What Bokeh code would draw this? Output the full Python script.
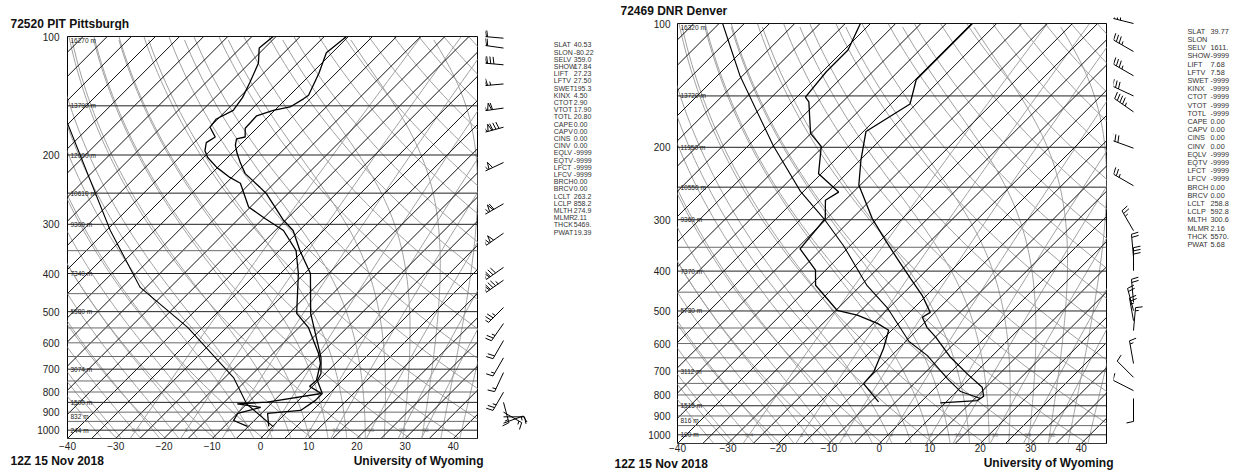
import numpy as np
from bokeh.plotting import figure
from bokeh.layouts import row, column
from bokeh.models import Range1d, FixedTicker, NumeralTickFormatter, CustomJSTickFormatter
from bokeh.core.properties import value
from bokeh.embed import file_html
from bokeh.resources import INLINE

FONT = "Liberation Sans"
SKEW = 35.4
P_BOT, P_TOP = 1050.0, 100.0
T_MIN, T_MAX = -40.0, 45.0

# ---------------- Pittsburgh data ----------------
pit_title = "72520 PIT Pittsburgh"
pit_temp_p = [978, 907, 891, 840, 807, 748, 718, 654, 505, 400, 350, 311, 293, 251, 242, 223, 210, 198,
              189, 182, 180, 171, 159, 154, 151, 144, 141, 124, 110, 100]
pit_temp = [-0.8, -3.7, 2.5, 3.5, 3.5, -0.2, -0.9, -4.2, -15.5, -23.8, -30.7, -36.3, -40.4, -49.4, -52.0,
            -58.0, -61.1, -63.9, -65.9, -67.0, -65.6, -67.4, -67.6, -65.3, -62.5, -61.4, -61.1, -63.5,
            -66.2, -65.4]
pit_dwpt_p = [978, 945, 907, 875, 857, 849, 807, 774, 748, 677, 638, 548, 505, 400, 350, 311, 290, 271,
              236, 228, 215, 203, 195, 186, 180, 170, 162, 154, 143, 131, 117, 107, 100]
pit_dwpt = [-5.2, -9.3, -9.9, -6.4, -12.0, -6.1, 3.3, -0.6, -0.4, -3.1, -5.6, -13.1, -18.4, -26.3, -31.5,
            -38.3, -44.6, -50.4, -57.0, -60.4, -65.2, -69.1, -71.1, -72.5, -71.8, -74.9, -75.3, -73.6,
            -74.3, -75.9, -78.1, -81.1, -80.6]
pit_parcel_p = [980, 858, 735, 548, 434, 311, 165]
pit_parcel = [0.2, -10.0, -18.2, -38.1, -56.2, -74.2, -105.6]
pit_wind_p = [101, 107, 118, 132, 152, 170, 209, 266, 316, 386, 416, 488, 536, 592, 655, 714, 801, 850,
              900, 925, 960]
pit_wind_dir = [275, 278, 275, 265, 262, 255, 245, 240, 235, 235, 235, 225, 215, 210, 210, 205, 210, 165,
                120, 90, 70]
pit_wind_spd = [60, 60, 80, 65, 110, 130, 100, 110, 100, 80, 85, 35, 25, 20, 15, 15, 25, 15, 15, 15, 10]
hgt_levels = [100, 150, 200, 250, 300, 400, 500, 700, 850, 925, 1000]
pit_hgt = ["16270 m", "13790 m", "12000 m", "10610 m", "9300 m", "7340 m", "5580 m", "3074 m",
           "1500 m", "832 m", "244 m"]
stat_names = ["SLAT", "SLON", "SELV", "SHOW", "LIFT", "LFTV", "SWET", "KINX", "CTOT", "VTOT", "TOTL",
              "CAPE", "CAPV", "CINS", "CINV", "EQLV", "EQTV", "LFCT", "LFCV", "BRCH", "BRCV", "LCLT",
              "LCLP", "MLTH", "MLMR", "THCK", "PWAT"]
pit_stats = ["40.53", "-80.22", "359.0", "17.84", "27.23", "27.50", "195.3", "4.50", "2.90", "17.90",
             "20.80", "0.00", "0.00", "0.00", "0.00", "-9999", "-9999", "-9999", "-9999", "0.00", "0.00",
             "263.2", "858.2", "274.9", "2.11", "5469.", "19.39"]

# ---------------- Denver data ----------------
dnr_title = "72469 DNR Denver"
dnr_temp_p = [836, 826, 806, 766, 711, 648, 579, 548, 518, 504, 458, 417, 373, 333, 298, 247, 215, 183,
              157, 137, 100]
dnr_temp = [4.0, 10.9, 11.3, 9.2, 3.6, -3.0, -9.9, -13.6, -16.5, -15.9, -20.9, -26.5, -33.1, -39.7,
            -46.0, -55.3, -59.8, -64.5, -61.2, -64.8, -64.8]
dnr_dwpt_p = [832, 751, 703, 617, 557, 536, 512, 498, 433, 398, 353, 298, 269, 257, 232, 199, 185, 155,
              151, 131, 116, 100]
dnr_dwpt = [-8.4, -15.0, -15.3, -18.0, -20.6, -24.2, -29.8, -34.8, -44.0, -47.0, -54.3, -55.3, -58.9,
            -57.9, -65.5, -70.4, -75.1, -81.7, -83.3, -84.2, -84.2, -87.0]
dnr_parcel_p = [816, 785, 730, 642, 593, 493, 434, 347, 298, 256, 198, 134, 100]
dnr_parcel = [11.1, 5.8, 0.6, -7.9, -14.35, -25.1, -33.7, -46.3, -55.6, -65.6, -80.1, -100.5, -114.3]
dnr_wind_p = [100, 117, 134, 150, 164, 201, 248, 319, 370, 399, 476, 499, 528, 558, 671, 725, 781, 816]
dnr_wind_dir = [284, 300, 300, 295, 305, 290, 300, 330, 355, 0, 355, 345, 350, 5, 350, 315, 297, 180]
dnr_wind_spd = [35, 35, 35, 30, 45, 30, 25, 25, 20, 30, 20, 20, 25, 15, 15, 10, 10, 10]
dnr_hgt = ["16320 m", "13720 m", "11950 m", "10550 m", "9360 m", "7370 m", "5730 m", "3112 m",
           "1515 m", "816 m", "190 m"]
dnr_stats = ["39.77", "", "1611.", "-9999", "7.68", "7.58", "-9999", "-9999", "-9999", "-9999", "-9999",
             "0.00", "0.00", "0.00", "0.00", "-9999", "-9999", "-9999", "-9999", "0.00", "0.00", "258.8",
             "592.8", "300.6", "2.16", "5570.", "5.68"]

date_text = "12Z 15 Nov 2018"
credit_text = "University of Wyoming"
mixr_vals = [0.4, 1, 2, 4, 7, 10, 16, 24, 32]
mixr_labels = ["0.4", "1", "2", "4", "7", "10", "16", "24", "32"]
isobar_levels = list(range(100, 1051, 50))
major_isobars = [100, 150, 200, 250, 300, 400, 500, 700, 850, 1000]

# ---------------- page geometry (pixels) ----------------
LNR = np.log(P_BOT / P_TOP)
L_TOP, L_H = 36.0, 402.0     # left diagram frame  x 67..477,  y 36..438
R_TOP, R_H = 23.0, 420.0     # right diagram frame x 677..1106, y 23..443
KL = L_H / LNR
KR = R_H / LNR
BASE_FIX = 4.0               # renderer places alphabetic baselines ~4px low


def L_p(py):
    return P_TOP * np.exp((py - L_TOP) / KL)


def R_p(py):
    return P_TOP * np.exp((py - R_TOP) / KR)


# ---------------- helpers ----------------
def skx(T, pr):
    return np.asarray(T, float) + SKEW * np.log(P_BOT / np.asarray(pr, float))


PLEVS = np.exp(np.linspace(np.log(P_BOT), np.log(P_TOP), 90))


def moist_curves(t1000):
    Rd, Cp, Lv, eps = 287.04, 1005.7, 2.501e6, 0.622

    def es(T):
        return 6.112 * np.exp(17.67 * (T - 273.15) / (T - 29.65))

    def lapse(T, pr):
        e = es(T)
        rs = eps * e / (pr - e)
        return (Rd * T + Lv * rs) / (pr * (Cp + Lv * Lv * rs * eps / (Rd * T * T)))

    def integ(p_seq, T0):
        T = T0.copy()
        out = [T.copy()]
        for i in range(1, len(p_seq)):
            pr = p_seq[i - 1]
            h = p_seq[i] - p_seq[i - 1]
            k1 = lapse(T, pr)
            k2 = lapse(T + h * k1, pr + h)
            T = T + h * (k1 + k2) / 2.0
            out.append(T.copy())
        return np.array(out)

    T0 = np.array(t1000, float) + 273.15
    p_up = np.arange(1000.0, 99.0, -2.0)
    p_dn = np.arange(1000.0, 1051.0, 2.0)
    up = integ(p_up, T0)
    dn = integ(p_dn, T0)
    ps = np.concatenate([p_dn[::-1], p_up[1:]])
    Ts = np.concatenate([dn[::-1], up[1:]]) - 273.15
    return ps[::3], Ts[::3]


MOIST_P, MOIST_T = moist_curves(list(range(-36, 45, 4)))


def draw_background(p):
    gray = "#a0a0a0"
    xs, ys = [], []
    for th in range(230, 480, 10):
        T = th * (PLEVS / 1000.0) ** 0.2857 - 273.15
        xs.append(list(skx(T, PLEVS)))
        ys.append(list(PLEVS))
    p.multi_line(xs, ys, line_color=gray, line_width=1)
    xs = [list(skx(MOIST_T[:, j], MOIST_P)) for j in range(MOIST_T.shape[1])]
    ys = [list(MOIST_P) for _ in range(MOIST_T.shape[1])]
    p.multi_line(xs, ys, line_color=gray, line_width=1)
    xs, ys, lx = [], [], []
    for w in mixr_vals:
        e = (w / 1000.0) * PLEVS / (0.622 + w / 1000.0)
        lr = np.log(e / 6.112)
        xs.append(list(skx(243.5 * lr / (17.67 - lr), PLEVS)))
        ys.append(list(PLEVS))
        e0 = (w / 1000.0) * 1000.0 / (0.622 + w / 1000.0)
        l0 = np.log(e0 / 6.112)
        lx.append(float(skx(243.5 * l0 / (17.67 - l0), 1000.0)))
    p.multi_line(xs, ys, line_color=gray, line_width=1)
    p.text(x=lx, y=[1000.0] * len(lx), text=mixr_labels, text_font=value(FONT), text_font_size="6px",
           text_color="#9a9a9a", text_align="center", text_baseline="middle")
    xs, ys = [], []
    for T in range(-125, 50, 5):
        xs.append([T, T + SKEW * LNR])
        ys.append([P_BOT, P_TOP])
    p.multi_line(xs, ys, line_color="#111111", line_width=1)
    minor = [lv for lv in isobar_levels if lv not in major_isobars]
    p.multi_line([[T_MIN, T_MAX]] * len(minor), [[lv, lv] for lv in minor], line_color="#6a6a6a",
                 line_width=1)
    p.multi_line([[T_MIN, T_MAX]] * len(major_isobars), [[lv, lv] for lv in major_isobars],
                 line_color="#222222", line_width=1)


def skewt_fig(w, h, b_left, b_right, b_top, b_bottom, ystand, xstand):
    p = figure(width=w, height=h, title=None, x_range=Range1d(T_MIN, T_MAX),
               y_range=Range1d(P_BOT, P_TOP), y_axis_type="log", output_backend="svg",
               toolbar_location=None, min_border_left=b_left, min_border_right=b_right,
               min_border_top=b_top, min_border_bottom=b_bottom, frame_align=False)
    p.grid.visible = False
    p.outline_line_color = "black"
    p.outline_line_width = 1
    p.xaxis.ticker = FixedTicker(ticks=list(range(-40, 41, 10)))
    p.xaxis.formatter = CustomJSTickFormatter(code="return (tick < 0 ? '\\u2212' : '') + Math.abs(tick);")
    p.yaxis.ticker = FixedTicker(ticks=list(range(100, 1001, 100)))
    p.yaxis.formatter = NumeralTickFormatter(format="0")
    for ax in (p.xaxis[0], p.yaxis[0]):
        ax.axis_line_color = None
        ax.major_tick_in = 0
        ax.major_tick_out = 0
        ax.minor_tick_in = 0
        ax.minor_tick_out = 0
        ax.major_label_text_font = FONT
        ax.major_label_text_font_size = "10px"
        ax.major_label_text_color = "#222222"
    p.yaxis[0].major_label_standoff = ystand
    p.xaxis[0].major_label_standoff = xstand
    draw_background(p)
    return p


def draw_sounding(p, tp, tt, dp, dd, pp, pt):
    p.line(skx(pt, pp), pp, line_color="black", line_width=1.1)
    p.line(skx(dd, dp), dp, line_color="black", line_width=1.3)
    p.line(skx(tt, tp), tp, line_color="black", line_width=1.3)


def draw_heights(p, labels, k, x_left):
    # keep the top label inside the frame (4 px below the top isobar)
    ys = [max(lv, P_TOP * np.exp(4.0 / k)) for lv in hgt_levels]
    p.text(x=[x_left] * len(hgt_levels), y=ys, text=labels, text_font=value(FONT),
           text_font_size="6.5px", text_color="#222222", text_align="left", text_baseline="middle")


def barb_segments(p0, d, spd, sx0, kpx, L=21.0, fl=7.0, sp=3.2):
    r = np.deg2rad(d)
    u = np.array([np.sin(r), np.cos(r)])
    n = np.array([np.cos(r), -np.sin(r)])
    segs = [[(0.0, 0.0), tuple(u * L)]]
    s = int(5 * round(spd / 5.0))
    npen = s // 50
    s -= 50 * npen
    nfull = s // 10
    s -= 10 * nfull
    nhalf = 1 if s >= 5 else 0
    pos = L
    for _ in range(npen):
        a = u * pos
        b = u * (pos - 4.0)
        apex = u * (pos - 1.5) + n * fl
        segs.append([tuple(a), tuple(apex), tuple(b)])
        pos -= 5.0
    for _ in range(nfull):
        segs.append([tuple(u * pos), tuple(u * pos + n * fl + u * 1.5)])
        pos -= sp
    if nhalf:
        if npen == 0 and nfull == 0:
            pos -= sp
        segs.append([tuple(u * pos), tuple(u * pos + (n * fl + u * 1.5) * 0.5)])
    xs, ys = [], []
    for seg in segs:
        xs.append([sx0 + q[0] for q in seg])
        ys.append([p0 * np.exp(-q[1] / kpx) for q in seg])
    return xs, ys


def plain_fig(w, h, x_range, y_range, log_y=False):
    kw = dict(y_axis_type="log") if log_y else {}
    p = figure(width=w, height=h, title=None, x_range=x_range, y_range=y_range, output_backend="svg",
               toolbar_location=None, min_border_left=0, min_border_right=0, min_border_top=0,
               min_border_bottom=0, x_axis_location=None, y_axis_location=None, frame_align=False, **kw)
    p.outline_line_color = None
    p.grid.visible = False
    return p


def strip_text(p, x, y, text, align="left"):
    p.text(x=[x], y=[y + BASE_FIX], text=[text], text_font=value(FONT), text_font_size="12px",
           text_font_style="bold", text_color="#111111", text_align=align, text_baseline="alphabetic")


# ================= left group (page x 0..600) =================
topL = plain_fig(600, 30, Range1d(0, 600), Range1d(0, 30))
strip_text(topL, 10, 2.5, pit_title)

pL = skewt_fig(485, 423, 67, 8, 6, 15, 8, 3)
draw_sounding(pL, pit_temp_p, pit_temp, pit_dwpt_p, pit_dwpt, pit_parcel_p, pit_parcel)
draw_heights(pL, pit_hgt, KL, T_MIN + 3 * 85 / 410)

sL = plain_fig(115, 423, Range1d(0, 115), Range1d(L_p(453), L_p(30)), log_y=True)
bx, by = [], []
for pr, d, s in zip(pit_wind_p, pit_wind_dir, pit_wind_spd):
    xs, ys = barb_segments(pr, d, s, 18.0, KL)
    bx += xs
    by += ys
sL.multi_line(bx, by, line_color="black", line_width=1)
ly = [L_p(44.3 + 7.2 * i) for i in range(len(stat_names))]
sL.text(x=[68.3] * len(stat_names), y=ly, text=stat_names, text_font=value(FONT), text_font_size="7px",
        text_color="#333333", text_align="left", text_baseline="middle")
sL.text(x=[88.3] * len(stat_names), y=ly, text=pit_stats, text_font=value(FONT), text_font_size="7px",
        text_color="#333333", text_align="left", text_baseline="middle")

botL = plain_fig(600, 17, Range1d(0, 600), Range1d(0, 17))
strip_text(botL, 10, 6.0, date_text)
strip_text(botL, 483, 6.0, credit_text, align="right")

left_group = column(topL, row(pL, sL), botL)

# ================= right group (page x 600..1236) =================
topR = plain_fig(636, 17, Range1d(0, 636), Range1d(0, 17))
strip_text(topR, 20, 2.5, dnr_title)

pR = skewt_fig(513, 438, 77, 7, 6, 12, 7, 0)
draw_sounding(pR, dnr_temp_p, dnr_temp, dnr_dwpt_p, dnr_dwpt, dnr_parcel_p, dnr_parcel)
draw_heights(pR, dnr_hgt, KR, T_MIN + 3 * 85 / 429)

sR = plain_fig(123, 438, Range1d(0, 123), Range1d(R_p(455), R_p(17)), log_y=True)
bx, by = [], []
for pr, d, s in zip(dnr_wind_p, dnr_wind_dir, dnr_wind_spd):
    xs, ys = barb_segments(pr, d, s, 20.0, KR, L=23.0)
    bx += xs
    by += ys
sR.multi_line(bx, by, line_color="black", line_width=1)
ry = [R_p(30.7 + 8.2 * i) for i in range(len(stat_names))]
sR.text(x=[74.0] * len(stat_names), y=ry, text=stat_names, text_font=value(FONT), text_font_size="7.3px",
        text_color="#333333", text_align="left", text_baseline="middle")
sR.text(x=[97.0] * len(stat_names), y=ry, text=dnr_stats, text_font=value(FONT), text_font_size="7.3px",
        text_color="#333333", text_align="left", text_baseline="middle")

botR = plain_fig(636, 15, Range1d(0, 636), Range1d(0, 15))
strip_text(botR, 14, 3.0, date_text)
strip_text(botR, 513, 4.0, credit_text, align="right")

right_group = column(topR, row(pR, sR), botR)

layout = row(left_group, right_group)
open("out.html", "w").write(file_html(layout, INLINE))
